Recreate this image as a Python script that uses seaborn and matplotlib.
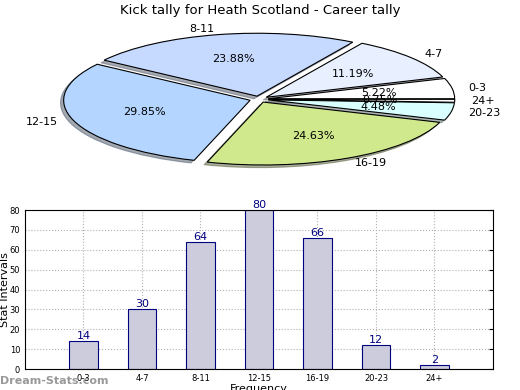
import matplotlib
matplotlib.use("Agg")
import matplotlib.pyplot as plt
import seaborn as sns
import pandas as pd

# ================================
# Data
# ================================
intervals = ["0-3", "4-7", "8-11", "12-15", "16-19", "20-23", "24+"]
kicks = [14, 30, 64, 80, 66, 12, 2]
pie_colors = ["#ffffff", "#e8f0ff", "#c6d9ff", "#b3d5ff", "#d0e98c", "#d9ffff", "#ffffff"]

title = "Kick tally for Heath Scotland - Career tally"

sns.set_style("white")
plt.rcParams["font.family"] = ["DejaVu Sans"]
plt.rcParams["text.color"] = "black"

fig = plt.figure(figsize=(5.2, 3.9), dpi=100)

# ================================
# Pie (squashed ellipse)
# ================================
ax1 = fig.add_axes([0.1035, 0.568, 0.789, 0.355])
wedges, texts, autotexts = ax1.pie(
    kicks, labels=intervals, colors=pie_colors, autopct="%.2f%%",
    explode=[0.05] * len(kicks), startangle=0, labeldistance=1.09,
    shadow={"ox": -0.012, "oy": -0.03, "shade": 0.6},
    wedgeprops={"edgecolor": "black", "linewidth": 0.8},
    textprops={"fontsize": 8, "color": "black"},
)
ax1.set_aspect("auto")
ax1.set_xlim(-1.1, 1.1)
ax1.set_ylim(-1.1, 1.1)
fig.text(0.5, 0.973, title, ha="center", va="center", fontsize=9.5, color="black")

# ================================
# Bar chart
# ================================
df = pd.DataFrame({"Interval": intervals, "Kicks": kicks})
ax2 = fig.add_axes([0.048, 0.0538, 0.9, 0.4077])
sns.barplot(data=df, x="Interval", y="Kicks", order=intervals, color="#ccccdd",
            edgecolor="navy", linewidth=0.8, width=0.48, saturation=1, ax=ax2)
for i, v in enumerate(kicks):
    ax2.text(i, v, str(v), ha="center", va="bottom", color="navy", fontsize=8)
ax2.set_xlim(-1, 7)
ax2.set_ylim(0, 80)
ax2.set_yticks(range(0, 81, 10))
ax2.grid(True, linestyle=":", color="#b0b0b0", linewidth=0.8)
for b in ax2.patches:
    b.set_zorder(1)
ax2.tick_params(direction="in", length=3, labelsize=6, right=True, top=False,
                colors="black")
ax2.set_xlabel("Frequency", fontsize=8, labelpad=1, color="black")
ax2.set_ylabel("Stat Intervals", fontsize=8, color="black")
ax2.yaxis.set_label_coords(-0.033, 0.5)
for s in ax2.spines.values():
    s.set_color("black")
    s.set_linewidth(0.8)

fig.text(0.0, 0.01, "Dream-Stats.com", color="#999999", fontsize=8,
         fontweight="bold", ha="left", va="bottom")

fig.savefig("out.png", dpi=100)
